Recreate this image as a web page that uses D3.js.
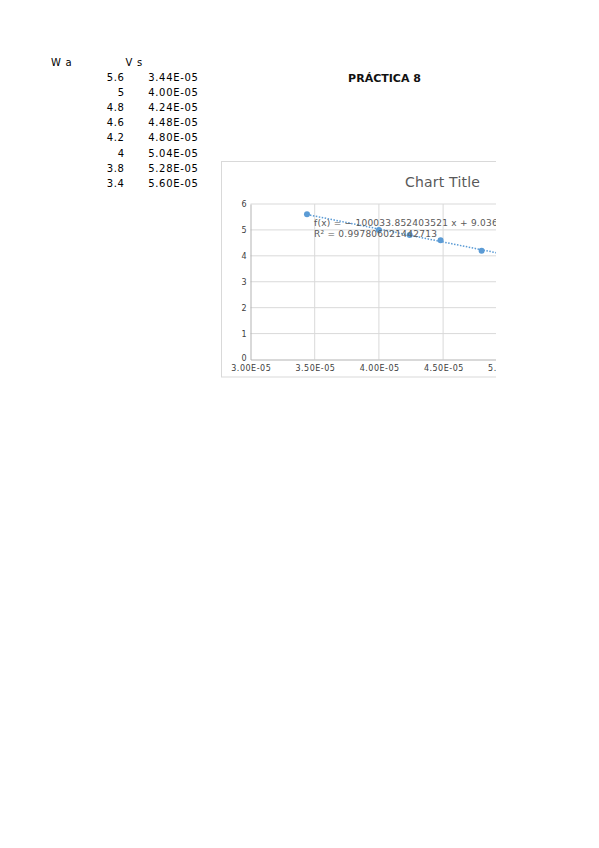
<!DOCTYPE html>
<html>
<head>
<meta charset="utf-8">
<script src="https://cdn.jsdelivr.net/npm/d3@7"></script>
<style>
  html, body { margin: 0; padding: 0; background: #fff; }
  svg text { font-family: "DejaVu Sans", sans-serif; }
</style>
</head>
<body>
<div id="page"></div>
<script>
// sheet data
const waValues = [5.6, 5, 4.8, 4.6, 4.2, 4, 3.8, 3.4];
const vsValues = [3.44e-5, 4.00e-5, 4.24e-5, 4.48e-5, 4.80e-5, 5.04e-5, 5.28e-5, 5.60e-5];
const headers = ['W a', 'V s'];
const xTicks = [3.0e-5, 3.5e-5, 4.0e-5, 4.5e-5, 5.0e-5, 5.5e-5, 6.0e-5];
const yTicks = [0, 1, 2, 3, 4, 5, 6];
const slope = -100033.852403521;
const intercept = 9.036;
const equationText = 'f(x) = − 100033.852403521 x + 9.036';
const r2Text = 'R² = 0.997806021442713';

const W = 599, H = 848;
const sci = d => d.toExponential(2).toUpperCase().replace('E-', 'E-0');

const svg = d3.select('#page').append('svg')
    .attr('width', W)
    .attr('height', H);

// table
const table = svg.append('g')
    .attr('font-size', 10)
    .attr('letter-spacing', 0.7)
    .attr('fill', '#000');
table.append('text').attr('x', 51).attr('y', 65.5).text(headers[0]);
table.append('text').attr('x', 125.5).attr('y', 65.5).text(headers[1]);

const rowY = i => 81 + i * 15.1;
table.selectAll('.wa').data(waValues).enter()
    .append('text')
    .attr('class', 'wa')
    .attr('x', 124.7)
    .attr('y', (d, i) => rowY(i))
    .attr('text-anchor', 'end')
    .text(d => String(d));
table.selectAll('.vs').data(vsValues).enter()
    .append('text')
    .attr('class', 'vs')
    .attr('x', 198.7)
    .attr('y', (d, i) => rowY(i))
    .attr('text-anchor', 'end')
    .text(sci);

// heading
svg.append('text')
    .attr('x', 384.5)
    .attr('y', 82)
    .attr('text-anchor', 'middle')
    .attr('font-size', 11)
    .attr('font-weight', 'bold')
    .attr('fill', '#111')
    .text('PRÁCTICA 8');

// chart (clipped at the page print edge)
svg.append('clipPath').attr('id', 'edge')
    .append('rect').attr('x', 0).attr('y', 0).attr('width', 496).attr('height', H);

const chart = svg.append('g').attr('clip-path', 'url(#edge)');

chart.append('rect')
    .attr('x', 221.5).attr('y', 161.5)
    .attr('width', 320).attr('height', 215.5)
    .attr('fill', '#fff')
    .attr('stroke', '#d9d9d9');

chart.append('text')
    .attr('x', 405)
    .attr('y', 187)
    .attr('font-size', 14)
    .attr('letter-spacing', 0.2)
    .attr('fill', '#595959')
    .text('Chart Title');

const x = d3.scaleLinear().domain([3.0e-5, 6.0e-5]).range([250.5, 635.7]);
const y = d3.scaleLinear().domain([0, 6]).range([359.5, 204]);

// grid
chart.append('g').selectAll('line').data(yTicks.slice(1)).enter()
    .append('line')
    .attr('x1', x(3.0e-5)).attr('x2', x(6.0e-5))
    .attr('y1', d => y(d)).attr('y2', d => y(d))
    .attr('stroke', '#d9d9d9');
chart.append('g').selectAll('line').data(xTicks.slice(1)).enter()
    .append('line')
    .attr('x1', d => x(d)).attr('x2', d => x(d))
    .attr('y1', y(0)).attr('y2', y(6))
    .attr('stroke', '#d9d9d9');

// axes
const yAxis = chart.append('g')
    .attr('transform', `translate(${x(3.0e-5)},0)`)
    .call(d3.axisLeft(y).tickValues(yTicks).tickSize(0).tickPadding(4).tickFormat(d3.format('d')));
const xAxis = chart.append('g')
    .attr('transform', `translate(0,${y(0)})`)
    .call(d3.axisBottom(x).tickValues(xTicks).tickSize(0).tickPadding(6).tickFormat(sci));
[xAxis, yAxis].forEach(a => {
    a.select('.domain').attr('stroke', '#b3b3b3');
    a.selectAll('text')
        .attr('font-family', '"DejaVu Sans", sans-serif')
        .attr('font-size', 8)
        .attr('fill', '#404040');
});
xAxis.selectAll('text').attr('letter-spacing', 0.5).attr('dx', 0.25);
// the zero label sits a little above the axis, as in the sheet
yAxis.selectAll('.tick').filter(d => d === 0).select('text').attr('dy', '0.1em');

// trend line
const xEnd = 6.0e-5;
chart.append('line')
    .attr('x1', x(vsValues[0])).attr('y1', y(slope * vsValues[0] + intercept))
    .attr('x2', x(xEnd)).attr('y2', y(slope * xEnd + intercept))
    .attr('stroke', '#5b9bd5')
    .attr('stroke-width', 1.5)
    .attr('stroke-dasharray', '1.5,1.5');

// points
chart.append('g').selectAll('circle').data(vsValues).enter()
    .append('circle')
    .attr('cx', d => x(d))
    .attr('cy', (d, i) => y(waValues[i]))
    .attr('r', 3)
    .attr('fill', '#5b9bd5');

// regression label
const eq = chart.append('g')
    .attr('font-size', 9)
    .attr('letter-spacing', 0.25)
    .attr('fill', '#595959');
eq.append('text').attr('x', 314).attr('y', 225.5).text(equationText);
eq.append('text').attr('x', 314).attr('y', 237).text(r2Text);
</script>
</body>
</html>
